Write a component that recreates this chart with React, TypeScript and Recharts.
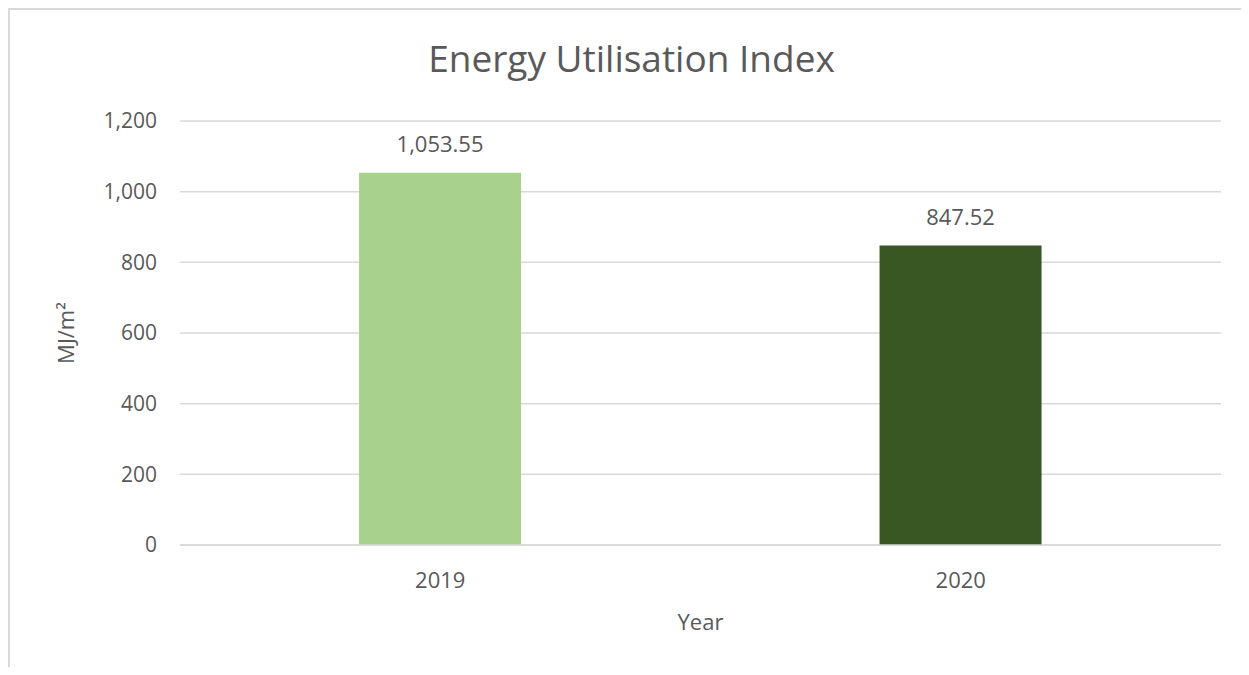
import { Bar, BarChart, CartesianGrid, Cell, LabelList, XAxis, YAxis } from "recharts"

const years = ["2019", "2020"]
const euiValues = [1053.55, 847.52]
const barColors = ["#a9d18e", "#385723"]
const yTicks = [0, 200, 400, 600, 800, 1000, 1200]

const data = years.map((year, i) => ({ year, eui: euiValues[i] }))

const TEXT = "#595959"
const FONT = "'Open Sans', sans-serif"

const fmtTick = (v: number) => v.toLocaleString("en-US")
const fmtValue = (v: number) =>
  v.toLocaleString("en-US", { minimumFractionDigits: 2, maximumFractionDigits: 2 })

export default function App() {
  return (
    <div
      style={{
        position: "relative",
        width: 1233,
        height: 667,
        marginBottom: -8,
        boxSizing: "border-box",
        borderTop: "2px solid #d9d9d9",
        borderLeft: "2px solid #d9d9d9",
        background: "#fff",
        fontFamily: FONT,
      }}
    >
      <div
        style={{
          position: "absolute",
          top: 22,
          left: 6,
          width: "100%",
          textAlign: "center",
          fontSize: 37,
          color: TEXT,
        }}
      >
        Energy Utilisation Index
      </div>
      <BarChart
        width={1231}
        height={653}
        data={data}
        margin={{ top: 111, right: 20, left: 0, bottom: 0 }}
        barCategoryGap="34.4%"
      >
        <CartesianGrid vertical={false} stroke="#d9d9d9" strokeWidth={1.5} />
        <XAxis
          dataKey="year"
          height={118}
          axisLine={{ stroke: "#d9d9d9", strokeWidth: 1.5 }}
          tickLine={false}
          tickSize={0}
          tickMargin={27}
          tick={{ fill: TEXT, fontSize: 22, fontFamily: FONT }}
          label={{
            value: "Year",
            position: "insideBottom",
            offset: 33,
            fill: TEXT,
            fontSize: 22,
            fontFamily: FONT,
          }}
        />
        <YAxis
          width={170}
          domain={[0, 1200]}
          ticks={yTicks}
          tickFormatter={fmtTick}
          axisLine={false}
          tickLine={false}
          tickSize={0}
          tickMargin={23}
          tick={{ fill: TEXT, fontSize: 21, fontFamily: FONT }}
          label={{
            value: "MJ/m²",
            angle: -90,
            position: "insideLeft",
            offset: 56,
            fill: TEXT,
            fontSize: 22,
            fontFamily: FONT,
            style: { textAnchor: "middle" },
          }}
        />
        <Bar dataKey="eui" isAnimationActive={false}>
          {data.map((d, i) => (
            <Cell key={d.year} fill={barColors[i % barColors.length]} />
          ))}
          <LabelList
            dataKey="eui"
            position="top"
            offset={21}
            formatter={(v: any) => fmtValue(Number(v))}
            fill={TEXT}
            fontSize={22}
            fontFamily={FONT}
          />
        </Bar>
      </BarChart>
    </div>
  )
}
